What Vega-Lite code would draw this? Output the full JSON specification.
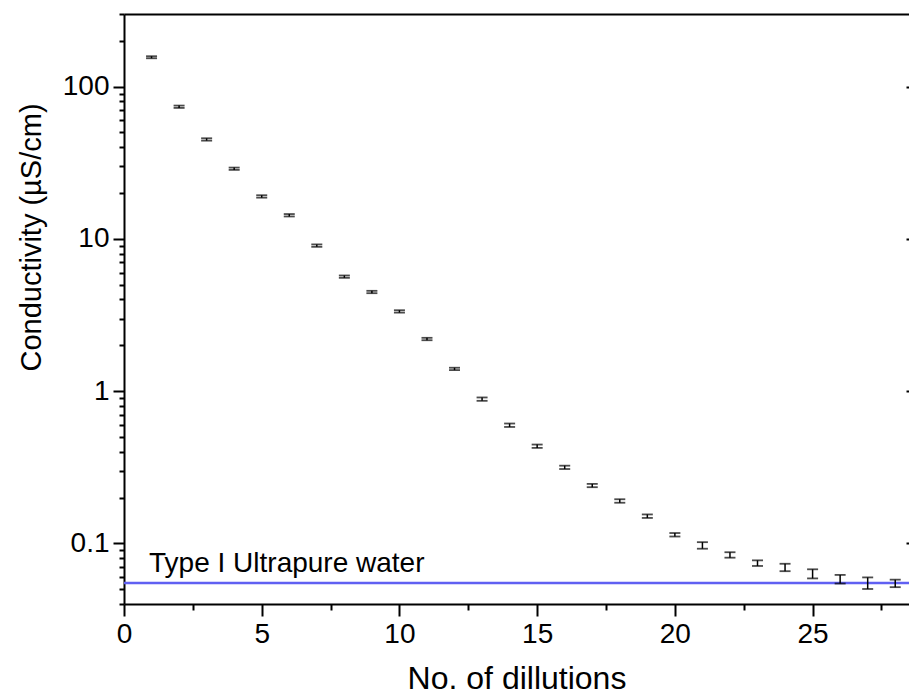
{
  "$schema": "https://vega.github.io/schema/vega-lite/v6.json",
  "autosize": {"type": "none"},
  "width": 785,
  "height": 590,
  "padding": {"left": 124, "top": 14, "right": 0, "bottom": 94},
  "background": "white",
  "config": {
    "view": {"stroke": null},
    "font": "Liberation Sans",
    "axis": {
      "grid": false,
      "domainColor": "black",
      "domainWidth": 2,
      "tickColor": "black",
      "tickWidth": 2,
      "labelColor": "black",
      "titleColor": "black",
      "labelFont": "Liberation Sans",
      "titleFont": "Liberation Sans",
      "labelFontSize": 28,
      "titleFontSize": 31,
      "titleFontWeight": "normal",
      "labelFlush": false
    }
  },
  "datasets": {
    "pts": [
      {"x": 1, "value": 156, "lo": 153.6, "hi": 158.4},
      {"x": 2, "value": 73.8, "lo": 72.5, "hi": 75.1},
      {"x": 3, "value": 45.0, "lo": 44.2, "hi": 45.8},
      {"x": 4, "value": 28.9, "lo": 28.4, "hi": 29.4},
      {"x": 5, "value": 19.0, "lo": 18.66, "hi": 19.35},
      {"x": 6, "value": 14.3, "lo": 14.04, "hi": 14.56},
      {"x": 7, "value": 9.03, "lo": 8.87, "hi": 9.2},
      {"x": 8, "value": 5.65, "lo": 5.55, "hi": 5.75},
      {"x": 9, "value": 4.48, "lo": 4.4, "hi": 4.56},
      {"x": 10, "value": 3.34, "lo": 3.28, "hi": 3.4},
      {"x": 11, "value": 2.2, "lo": 2.16, "hi": 2.24},
      {"x": 12, "value": 1.4, "lo": 1.375, "hi": 1.425},
      {"x": 13, "value": 0.886, "lo": 0.864, "hi": 0.909},
      {"x": 14, "value": 0.597, "lo": 0.582, "hi": 0.613},
      {"x": 15, "value": 0.435, "lo": 0.424, "hi": 0.446},
      {"x": 16, "value": 0.316, "lo": 0.308, "hi": 0.324},
      {"x": 17, "value": 0.24, "lo": 0.234, "hi": 0.246},
      {"x": 18, "value": 0.19, "lo": 0.185, "hi": 0.195},
      {"x": 19, "value": 0.151, "lo": 0.147, "hi": 0.155},
      {"x": 20, "value": 0.114, "lo": 0.111, "hi": 0.117},
      {"x": 21, "value": 0.097, "lo": 0.0923, "hi": 0.1019},
      {"x": 22, "value": 0.084, "lo": 0.0806, "hi": 0.0875},
      {"x": 23, "value": 0.0742, "lo": 0.0711, "hi": 0.0774},
      {"x": 24, "value": 0.0695, "lo": 0.0657, "hi": 0.0735},
      {"x": 25, "value": 0.0631, "lo": 0.0589, "hi": 0.0676},
      {"x": 26, "value": 0.0582, "lo": 0.0545, "hi": 0.0621},
      {"x": 27, "value": 0.0548, "lo": 0.0502, "hi": 0.0598},
      {"x": 28, "value": 0.0546, "lo": 0.0516, "hi": 0.0578}
    ],
    "ref": [{"ref": 0.055}],
    "note": [{"x": 0.91, "y": 0.0647, "label": "Type I Ultrapure water"}]
  },
  "resolve": {"axis": {"x": "independent", "y": "independent"}},
  "layer": [
    {
      "data": {"name": "ref"},
      "mark": {"type": "rule", "color": "#6060f2", "strokeWidth": 2.5},
      "encoding": {
        "y": {
          "field": "ref", "type": "quantitative",
          "scale": {"type": "log", "domain": [0.04, 300], "nice": false},
          "axis": {
            "orient": "left",
            "values": [0.1, 1, 10, 100],
            "format": "~g",
            "tickSize": 11,
            "labelPadding": 4,
            "title": "Conductivity (µS/cm)",
            "titleFontSize": 29,
            "titleX": -84,
            "titleY": 223,
            "titleAlign": "center",
            "titleBaseline": "alphabetic",
            "titleAngle": -90
          }
        }
      }
    },
    {
      "data": {"name": "pts"},
      "mark": {"type": "rule", "color": "black", "strokeWidth": 1.5},
      "encoding": {
        "x": {
          "field": "x", "type": "quantitative",
          "scale": {"domain": [0, 28.5], "nice": false, "zero": false},
          "axis": {
            "orient": "bottom",
            "values": [0, 5, 10, 15, 20, 25],
            "tickSize": 12,
            "labelPadding": 4,
            "title": "No. of dillutions",
            "titleFontSize": 32,
            "titlePadding": 15
          }
        },
        "y": {
          "field": "lo", "type": "quantitative",
          "scale": {"type": "log", "domain": [0.04, 300], "nice": false},
          "axis": {
            "orient": "left",
            "values": [0.04, 0.05, 0.06, 0.07, 0.08, 0.09, 0.2, 0.3, 0.4, 0.5, 0.6, 0.7, 0.8, 0.9, 2, 3, 4, 5, 6, 7, 8, 9, 20, 30, 40, 50, 60, 70, 80, 90, 200, 300],
            "tickSize": 5,
            "labels": false,
            "domain": false,
            "title": null
          }
        },
        "y2": {"field": "hi"}
      }
    },
    {
      "data": {"name": "pts"},
      "mark": {"type": "tick", "orient": "horizontal", "color": "black", "size": 11, "thickness": 1.8},
      "encoding": {
        "x": {
          "field": "x", "type": "quantitative",
          "scale": {"domain": [0, 28.5], "nice": false, "zero": false},
          "axis": {
            "orient": "bottom",
            "values": [2.5, 7.5, 12.5, 17.5, 22.5, 27.5],
            "tickSize": 6,
            "labels": false,
            "domain": false,
            "title": null
          }
        },
        "y": {
          "field": "lo", "type": "quantitative",
          "scale": {"type": "log", "domain": [0.04, 300], "nice": false},
          "axis": {
            "orient": "right",
            "values": [0.1, 1, 10, 100],
            "tickSize": -3,
            "labels": false,
            "domain": false,
            "title": null
          }
        }
      }
    },
    {
      "data": {"name": "pts"},
      "mark": {"type": "tick", "orient": "horizontal", "color": "black", "size": 11, "thickness": 1.8},
      "encoding": {
        "x": {
          "field": "x", "type": "quantitative",
          "scale": {"domain": [0, 28.5], "nice": false, "zero": false},
          "axis": {
            "orient": "top",
            "ticks": false,
            "labels": false,
            "domain": true,
            "title": null
          }
        },
        "y": {
          "field": "hi", "type": "quantitative",
          "scale": {"type": "log", "domain": [0.04, 300], "nice": false},
          "axis": null
        }
      }
    },
    {
      "data": {"name": "note"},
      "mark": {"type": "text", "align": "left", "baseline": "alphabetic", "fontSize": 28, "font": "Liberation Sans", "color": "black"},
      "encoding": {
        "x": {"field": "x", "type": "quantitative", "scale": {"domain": [0, 28.5], "nice": false, "zero": false}, "axis": null},
        "y": {"field": "y", "type": "quantitative", "scale": {"type": "log", "domain": [0.04, 300], "nice": false}, "axis": null},
        "text": {"field": "label"}
      }
    }
  ]
}
